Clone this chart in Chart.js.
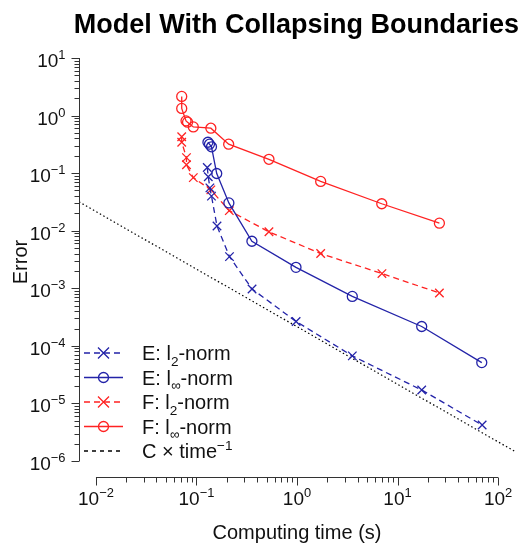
<!DOCTYPE html>
<html>
<head>
<meta charset="utf-8">
<title>Model With Collapsing Boundaries</title>
<script src="https://cdn.jsdelivr.net/npm/chart.js@4.4.1/dist/chart.umd.min.js"></script>
<style>
  body { margin: 0; background: #fff; }
  .chart-wrap { width: 525px; height: 549px; position: relative; }
</style>
</head>
<body>
<div class="chart-wrap"><canvas id="myChart"></canvas></div>
<script>
// data (log-log)
const eL2Time = [0.128, 0.131, 0.136, 0.141, 0.160, 0.213, 0.357, 0.98, 3.55, 17.4, 69.5];
const eL2Error = [0.125, 0.0863, 0.0555, 0.0399, 0.0121, 0.00355, 0.000973, 0.000265, 0.000067, 0.0000171, 0.00000421];

const eInfTime = [0.130, 0.1346, 0.141, 0.159, 0.210, 0.356, 0.977, 3.55, 17.4, 68.9];
const eInfError = [0.344, 0.318, 0.287, 0.0985, 0.0304, 0.00656, 0.00231, 0.000723, 0.000217, 0.0000512];

const fL2Time = [0.0713, 0.0713, 0.0795, 0.0795, 0.093, 0.139, 0.212, 0.526, 1.72, 7.0, 26.1];
const fL2Error = [0.429, 0.344, 0.186, 0.1396, 0.0836, 0.0512, 0.0223, 0.00957, 0.00401, 0.0018, 0.000828];

const fInfTime = [0.0713, 0.0713, 0.0787, 0.0815, 0.093, 0.139, 0.209, 0.526, 1.72, 6.97, 26.1];
const fInfError = [2.15, 1.33, 0.809, 0.768, 0.636, 0.603, 0.318, 0.174, 0.0719, 0.0294, 0.01352];

// reference line C x time^-1, end points
const refTime = [0.00678, 147.5];
const refError = [0.0317, 0.00000146];

const xTickExps = [-2, -1, 0, 1, 2];
const yTickExps = [1, 0, -1, -2, -3, -4, -5, -6];

const BLUE = "#2323a8";
const RED = "#ff2222";
const FONT = "'Liberation Sans', Arial, sans-serif";

const toPoints = (xs, ys) => xs.map((v, i) => ({ x: v, y: ys[i] }));

const legendItems = [
  { parts: [["E: l"], ["2", "sub"], ["-norm"]], color: BLUE, dash: [6, 4], marker: "x" },
  { parts: [["E: l"], ["\u221e", "sub"], ["-norm"]], color: BLUE, dash: [], marker: "o" },
  { parts: [["F: l"], ["2", "sub"], ["-norm"]], color: RED, dash: [6, 4], marker: "x" },
  { parts: [["F: l"], ["\u221e", "sub"], ["-norm"]], color: RED, dash: [], marker: "o" },
  { parts: [["C \u00d7 time"], ["\u22121", "sup"]], color: "#000", dash: [4, 4], marker: null },
];

function drawRich(ctx, parts, x, y, size) {
  let cx = x;
  parts.forEach(([text, kind]) => {
    const s = kind ? size * 0.68 : size;
    ctx.font = s + "px " + FONT;
    let dy = 0;
    if (kind === "sub") dy = size * 0.28;
    if (kind === "sup") dy = -size * 0.42;
    ctx.fillText(text, cx, y + dy);
    cx += ctx.measureText(text).width;
  });
  return cx - x;
}

function measureRich(ctx, parts, size) {
  let w = 0;
  parts.forEach(([text, kind]) => {
    ctx.font = (kind ? size * 0.68 : size) + "px " + FONT;
    w += ctx.measureText(text).width;
  });
  return w;
}

function powParts(exp) {
  return [["10"], [exp < 0 ? "\u2212" + (-exp) : String(exp), "sup"]];
}

function drawMarker(ctx, kind, x, y, r) {
  ctx.beginPath();
  if (kind === "o") {
    ctx.arc(x, y, r, 0, Math.PI * 2);
  } else {
    ctx.moveTo(x - r, y - r);
    ctx.lineTo(x + r, y + r);
    ctx.moveTo(x + r, y - r);
    ctx.lineTo(x - r, y + r);
  }
  ctx.stroke();
}

const axisDecor = {
  id: "axisDecor",
  afterDraw(chart) {
    const { ctx, chartArea, scales } = chart;
    const xs = scales.x;
    const ys = scales.y;
    ctx.save();
    ctx.strokeStyle = "#333";
    ctx.fillStyle = "#111";
    ctx.lineWidth = 1;
    ctx.textBaseline = "alphabetic";

    // y axis
    const ax = Math.round(chartArea.left) + 0.5;
    const yTop = ys.getPixelForValue(Math.pow(10, yTickExps[0]));
    const yBot = ys.getPixelForValue(Math.pow(10, yTickExps[yTickExps.length - 1]));
    ctx.beginPath();
    ctx.moveTo(ax, yTop);
    ctx.lineTo(ax, yBot);
    for (let e = yTickExps[yTickExps.length - 1]; e <= yTickExps[0]; e++) {
      const py = Math.round(ys.getPixelForValue(Math.pow(10, e))) + 0.5;
      ctx.moveTo(ax, py);
      ctx.lineTo(ax - 8, py);
      if (e < yTickExps[0]) {
        for (let m = 2; m <= 9; m++) {
          const my = Math.round(ys.getPixelForValue(m * Math.pow(10, e))) + 0.5;
          ctx.moveTo(ax, my);
          ctx.lineTo(ax - 5, my);
        }
      }
    }
    ctx.stroke();
    yTickExps.forEach((e) => {
      const py = ys.getPixelForValue(Math.pow(10, e));
      const parts = powParts(e);
      const w = measureRich(ctx, parts, 19);
      drawRich(ctx, parts, ax - 14 - w, py + 9, 19);
    });

    // x axis, set a bit below the plot
    const ay = Math.round(chartArea.bottom) + 16.5;
    const xL = xs.getPixelForValue(Math.pow(10, xTickExps[0]));
    const xR = xs.getPixelForValue(Math.pow(10, xTickExps[xTickExps.length - 1]));
    ctx.beginPath();
    ctx.moveTo(xL, ay);
    ctx.lineTo(xR, ay);
    for (let e = xTickExps[0]; e <= xTickExps[xTickExps.length - 1]; e++) {
      const px = Math.round(xs.getPixelForValue(Math.pow(10, e))) + 0.5;
      ctx.moveTo(px, ay);
      ctx.lineTo(px, ay + 8);
      if (e < xTickExps[xTickExps.length - 1]) {
        for (let m = 2; m <= 9; m++) {
          const mx = Math.round(xs.getPixelForValue(m * Math.pow(10, e))) + 0.5;
          ctx.moveTo(mx, ay);
          ctx.lineTo(mx, ay + 5);
        }
      }
    }
    ctx.stroke();
    xTickExps.forEach((e) => {
      const px = xs.getPixelForValue(Math.pow(10, e));
      const parts = powParts(e);
      const w = measureRich(ctx, parts, 19);
      drawRich(ctx, parts, px - w / 2, ay + 27, 19);
    });

    // axis titles
    ctx.font = "20px " + FONT;
    ctx.textAlign = "center";
    ctx.fillText("Computing time (s)", (xL + xR) / 2, ay + 61);
    ctx.save();
    ctx.translate(27, 262);
    ctx.rotate(-Math.PI / 2);
    ctx.fillText("Error", 0, 0);
    ctx.restore();

    // title
    ctx.font = "bold 27px " + FONT;
    ctx.fillStyle = "#000";
    ctx.fillText("Model With Collapsing Boundaries", 296.5, 33);
    ctx.textAlign = "left";

    // legend
    legendItems.forEach((item, i) => {
      const ly = 353 + i * 24.5;
      ctx.strokeStyle = item.color;
      ctx.lineWidth = 1.3;
      ctx.setLineDash(item.dash);
      ctx.beginPath();
      ctx.moveTo(84, ly);
      ctx.lineTo(123, ly);
      ctx.stroke();
      ctx.setLineDash([]);
      if (item.marker) drawMarker(ctx, item.marker, 103.5, ly, item.marker === "o" ? 5 : 5.5);
      ctx.fillStyle = "#111";
      drawRich(ctx, item.parts, 142, ly + 7, 20);
    });
    ctx.restore();
  },
};

const ctx = document.getElementById("myChart").getContext("2d");

new Chart(ctx, {
  type: "line",
  data: {
    datasets: [
      {
        label: "E: l2-norm",
        data: toPoints(eL2Time, eL2Error),
        borderColor: BLUE,
        borderWidth: 1.3,
        borderDash: [6, 4],
        pointStyle: "crossRot",
        pointRadius: 6,
        pointBorderWidth: 1.3,
        pointBorderColor: BLUE,
      },
      {
        label: "E: l\u221e-norm",
        data: toPoints(eInfTime, eInfError),
        borderColor: BLUE,
        borderWidth: 1.3,
        pointStyle: "circle",
        pointRadius: 5,
        pointBorderWidth: 1.3,
        pointBorderColor: BLUE,
        pointBackgroundColor: "rgba(0,0,0,0)",
      },
      {
        label: "F: l2-norm",
        data: toPoints(fL2Time, fL2Error),
        borderColor: RED,
        borderWidth: 1.3,
        borderDash: [6, 4],
        pointStyle: "crossRot",
        pointRadius: 6,
        pointBorderWidth: 1.3,
        pointBorderColor: RED,
      },
      {
        label: "F: l\u221e-norm",
        data: toPoints(fInfTime, fInfError),
        borderColor: RED,
        borderWidth: 1.3,
        pointStyle: "circle",
        pointRadius: 5,
        pointBorderWidth: 1.3,
        pointBorderColor: RED,
        pointBackgroundColor: "rgba(0,0,0,0)",
      },
      {
        label: "C x time^-1",
        data: toPoints(refTime, refError),
        borderColor: "#000",
        borderWidth: 1.2,
        borderDash: [1.5, 2.5],
        pointRadius: 0,
      },
    ],
  },
  options: {
    responsive: true,
    maintainAspectRatio: false,
    animation: false,
    layout: {
      padding: { left: 79, right: 10, top: 58, bottom: 88 },
    },
    plugins: {
      legend: { display: false },
      tooltip: { enabled: false },
    },
    scales: {
      x: {
        type: "logarithmic",
        display: false,
        min: refTime[0],
        max: refTime[1],
      },
      y: {
        type: "logarithmic",
        display: false,
        min: Math.pow(10, yTickExps[yTickExps.length - 1]),
        max: Math.pow(10, yTickExps[0]),
      },
    },
  },
  plugins: [axisDecor],
});
</script>
</body>
</html>
